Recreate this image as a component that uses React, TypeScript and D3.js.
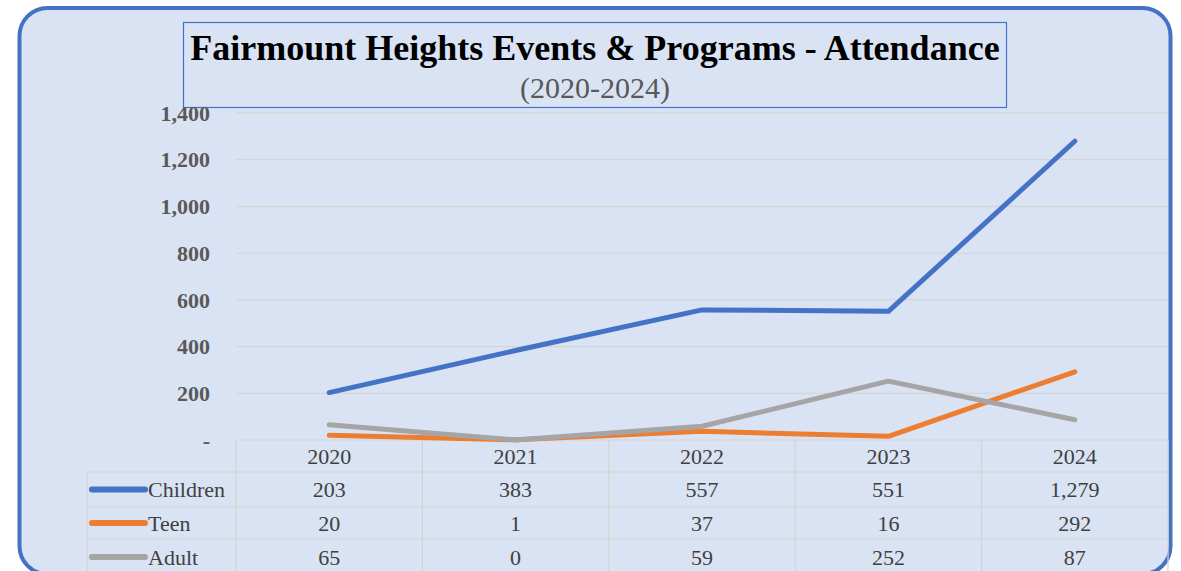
import React from 'react';
import * as d3 from 'd3';

// chart data
const years = ['2020', '2021', '2022', '2023', '2024'];
const seriesNames = ['Children', 'Teen', 'Adult'];
const children = [203, 383, 557, 551, 1279];
const teen = [20, 1, 37, 16, 292];
const adult = [65, 0, 59, 252, 87];
const yTicks = [0, 200, 400, 600, 800, 1000, 1200, 1400];

const colors = ['#4472C4', '#ED7D31', '#A5A5A5'];
const FONT = '"Liberation Serif", "Times New Roman", serif';

export default function App() {
  const W = 1181, H = 571;
  const plot = { left: 236, right: 1168, top: 113, bottom: 440 };

  const x = d3.scaleBand().domain(years).range([plot.left, plot.right]);
  const y = d3.scaleLinear().domain([0, 1400]).range([plot.bottom, plot.top]);
  const fmt = d3.format(',');

  const allSeries = [children, teen, adult];
  const line = d3.line<number>()
    .x((d, i) => (x(years[i]) as number) + x.bandwidth() / 2)
    .y(d => y(d));

  // table rows (header + 3 series)
  const rowTops = [440, 472, 507, 539, 575];
  const tableLeft = 87;

  return (
    <svg width={W} height={H} style={{ position: 'absolute', left: 0, top: 0 }}>
      <rect x={0} y={0} width={W} height={H} fill="#ffffff" />
      <rect x={19.5} y={8} width={1151} height={566} rx={28} ry={28}
        fill="#DAE3F3" stroke="#4472C4" strokeWidth={4} />

      {/* title */}
      <rect x={183.5} y={22.5} width={823} height={85} fill="none" stroke="#4472C4" strokeWidth={1.2} />
      <text x={595} y={60} textAnchor="middle" fontFamily={FONT} fontWeight="bold" fontSize={36} fill="#000">
        Fairmount Heights Events &amp; Programs - Attendance
      </text>
      <text x={595} y={98} textAnchor="middle" fontFamily={FONT} fontSize={30} fill="#595959">
        (2020-2024)
      </text>

      {/* gridlines + y labels */}
      {yTicks.map(t => (
        <g key={t}>
          {t > 0 && (
            <line x1={plot.left} x2={plot.right} y1={y(t)} y2={y(t)} stroke="#D5D3CF" strokeWidth={1} />
          )}
          <text x={210} y={y(t)} dy="0.35em" textAnchor="end" fontFamily={FONT} fontWeight="bold"
            fontSize={22} fill="#595959">
            {t === 0 ? '-' : fmt(t)}
          </text>
        </g>
      ))}

      {/* data table grid */}
      <g stroke="#D5D3CF" strokeWidth={1.2}>
        <line x1={plot.left} x2={plot.right} y1={rowTops[0]} y2={rowTops[0]} />
        {rowTops.slice(1, 4).map(r => (
          <line key={r} x1={tableLeft} x2={plot.right} y1={r} y2={r} />
        ))}
        <line x1={tableLeft} x2={tableLeft} y1={rowTops[1]} y2={H} />
        {years.map(yr => (
          <line key={yr} x1={x(yr)} x2={x(yr)} y1={rowTops[0]} y2={H} />
        ))}
        <line x1={plot.right} x2={plot.right} y1={rowTops[0]} y2={H} />
      </g>

      {/* header years */}
      {years.map(yr => (
        <text key={yr} x={(x(yr) as number) + x.bandwidth() / 2} y={(rowTops[0] + rowTops[1]) / 2}
          dy="0.35em" textAnchor="middle" fontFamily={FONT} fontSize={22} fill="#404040">
          {yr}
        </text>
      ))}

      {/* table rows */}
      {allSeries.map((s, si) => {
        const cy = (rowTops[si + 1] + rowTops[si + 2]) / 2;
        return (
          <g key={seriesNames[si]}>
            <line x1={92} x2={145} y1={cy} y2={cy} stroke={colors[si]} strokeWidth={6} strokeLinecap="round" />
            <text x={148} y={cy} dy="0.35em" fontFamily={FONT} fontSize={22} fill="#404040">
              {seriesNames[si]}
            </text>
            {s.map((v, i) => (
              <text key={i} x={(x(years[i]) as number) + x.bandwidth() / 2} y={cy} dy="0.35em"
                textAnchor="middle" fontFamily={FONT} fontSize={22} fill="#404040">
                {fmt(v)}
              </text>
            ))}
          </g>
        );
      })}

      {/* lines */}
      {allSeries.map((s, si) => (
        <path key={si} d={line(s) || ''} fill="none" stroke={colors[si]} strokeWidth={5}
          strokeLinecap="round" strokeLinejoin="round" />
      ))}
    </svg>
  );
}
